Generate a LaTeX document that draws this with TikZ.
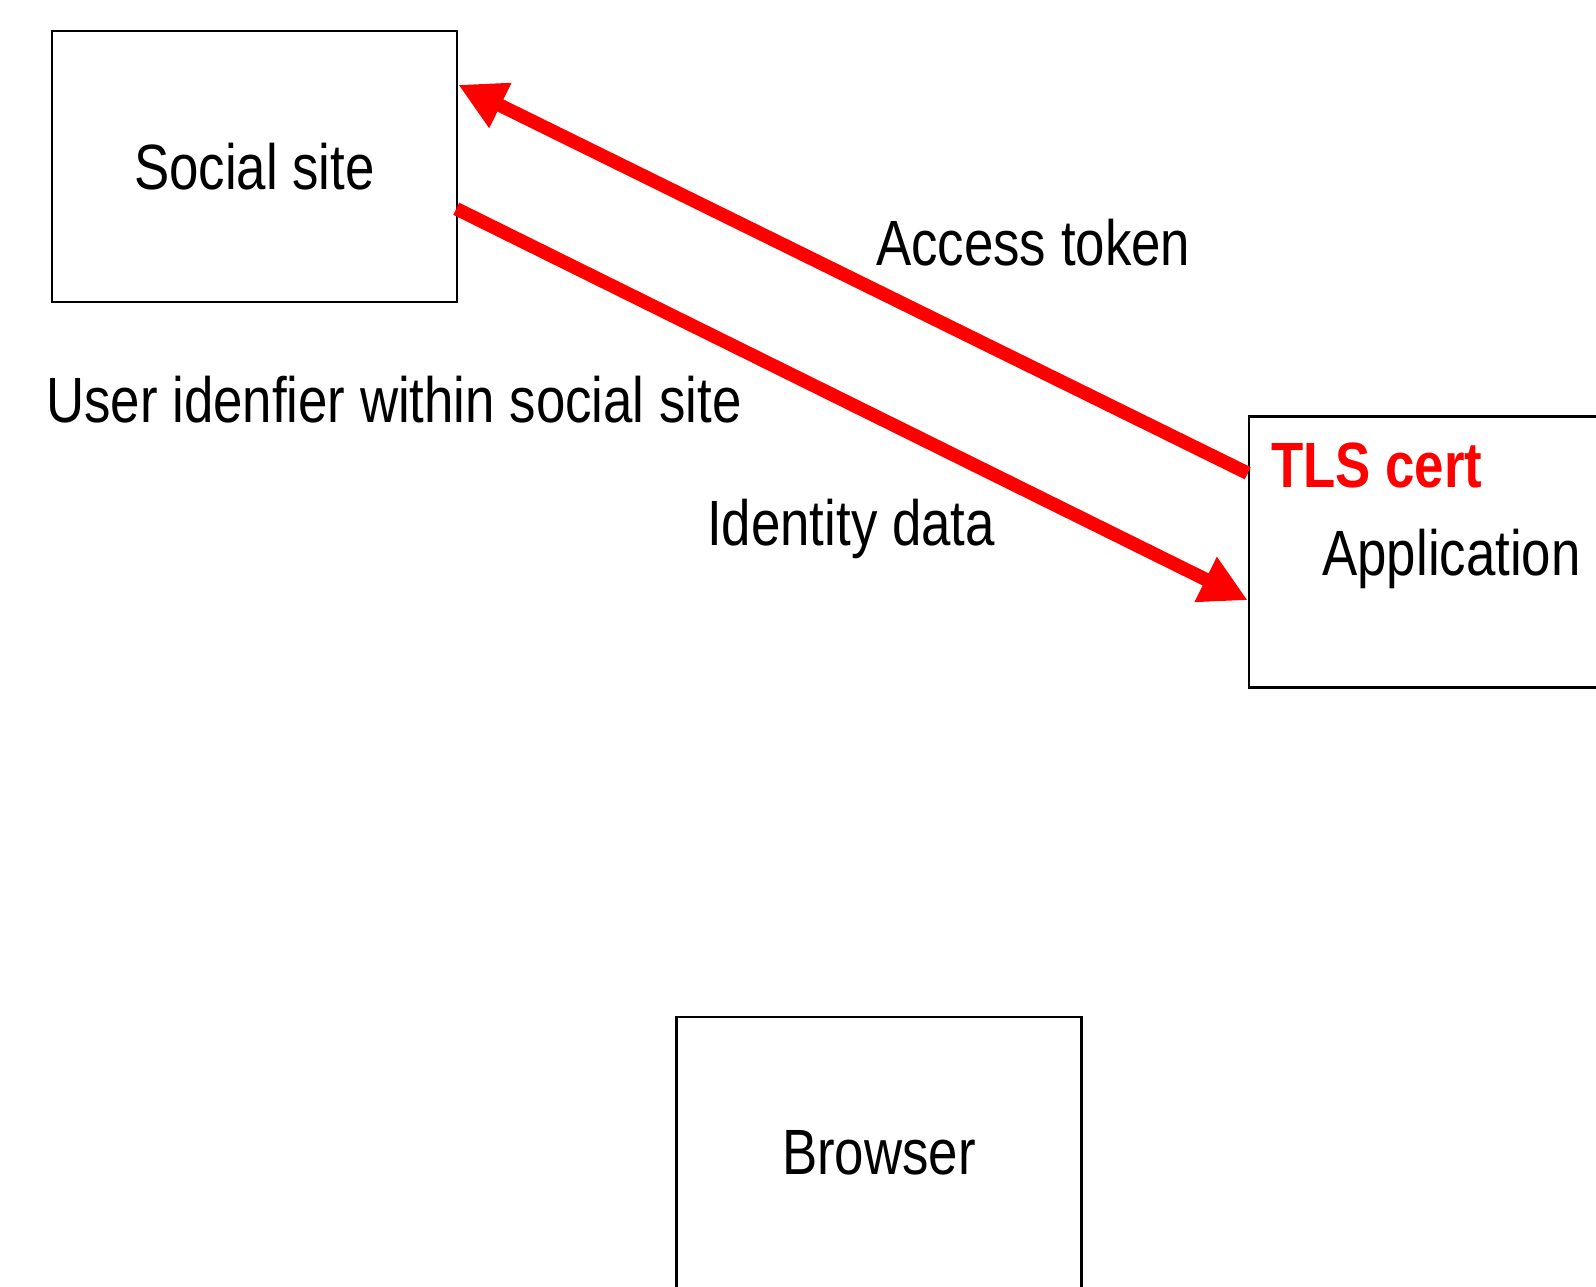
\documentclass[tikz,border=0pt]{standalone}
\usepackage{fontspec}
\setmainfont[FakeStretch=0.825]{Liberation Sans}
\usetikzlibrary{arrows.meta,calc}
\definecolor{arrowred}{RGB}{255,0,0}
\tikzset{
  box/.style={draw=black, line width=2.5pt, rectangle, inner sep=0pt,
    minimum width=405pt, minimum height=271pt, text depth=0pt,
    font=\fontsize{64}{70}\selectfont},
  lbl/.style={anchor=base west, inner sep=0pt, font=\fontsize{64}{70}\selectfont},
  flow/.style={draw=arrowred, line width=13.5pt,
    -{Triangle[length=47pt,width=47pt]}, arrowred}
}
\begin{document}
\begin{tikzpicture}[x=1pt,y=-1pt]
\useasboundingbox (0,0) rectangle (1596,1287);
\node[box] (social) at (254.5,166.5) {Social site};
\node[box] (app) at (1451.5,552) {Application};
\node[box] (browser) at (879,1152.5) {Browser};
\node[lbl] (user) at (46,422) {User idenfier within social site};
\node[lbl] (access) at (876,265) {Access token};
\node[lbl] (identity) at (707,545) {Identity data};
\node[lbl, text=arrowred, font=\fontsize{64}{70}\selectfont\bfseries] (tls) at (1271,487) {TLS cert};
\coordinate (a1s) at ($(app.north west)+(0,58)$);
\coordinate (a1e) at ($(social.north east)+(0,55)$);
\coordinate (a2s) at ($(social.north east)+(-2,179)$);
\coordinate (a2e) at ($(app.north west)+(0,185)$);
\draw[flow] (a1s) -- (a1e);
\draw[flow] (a2s) -- (a2e);
\end{tikzpicture}
\end{document}
